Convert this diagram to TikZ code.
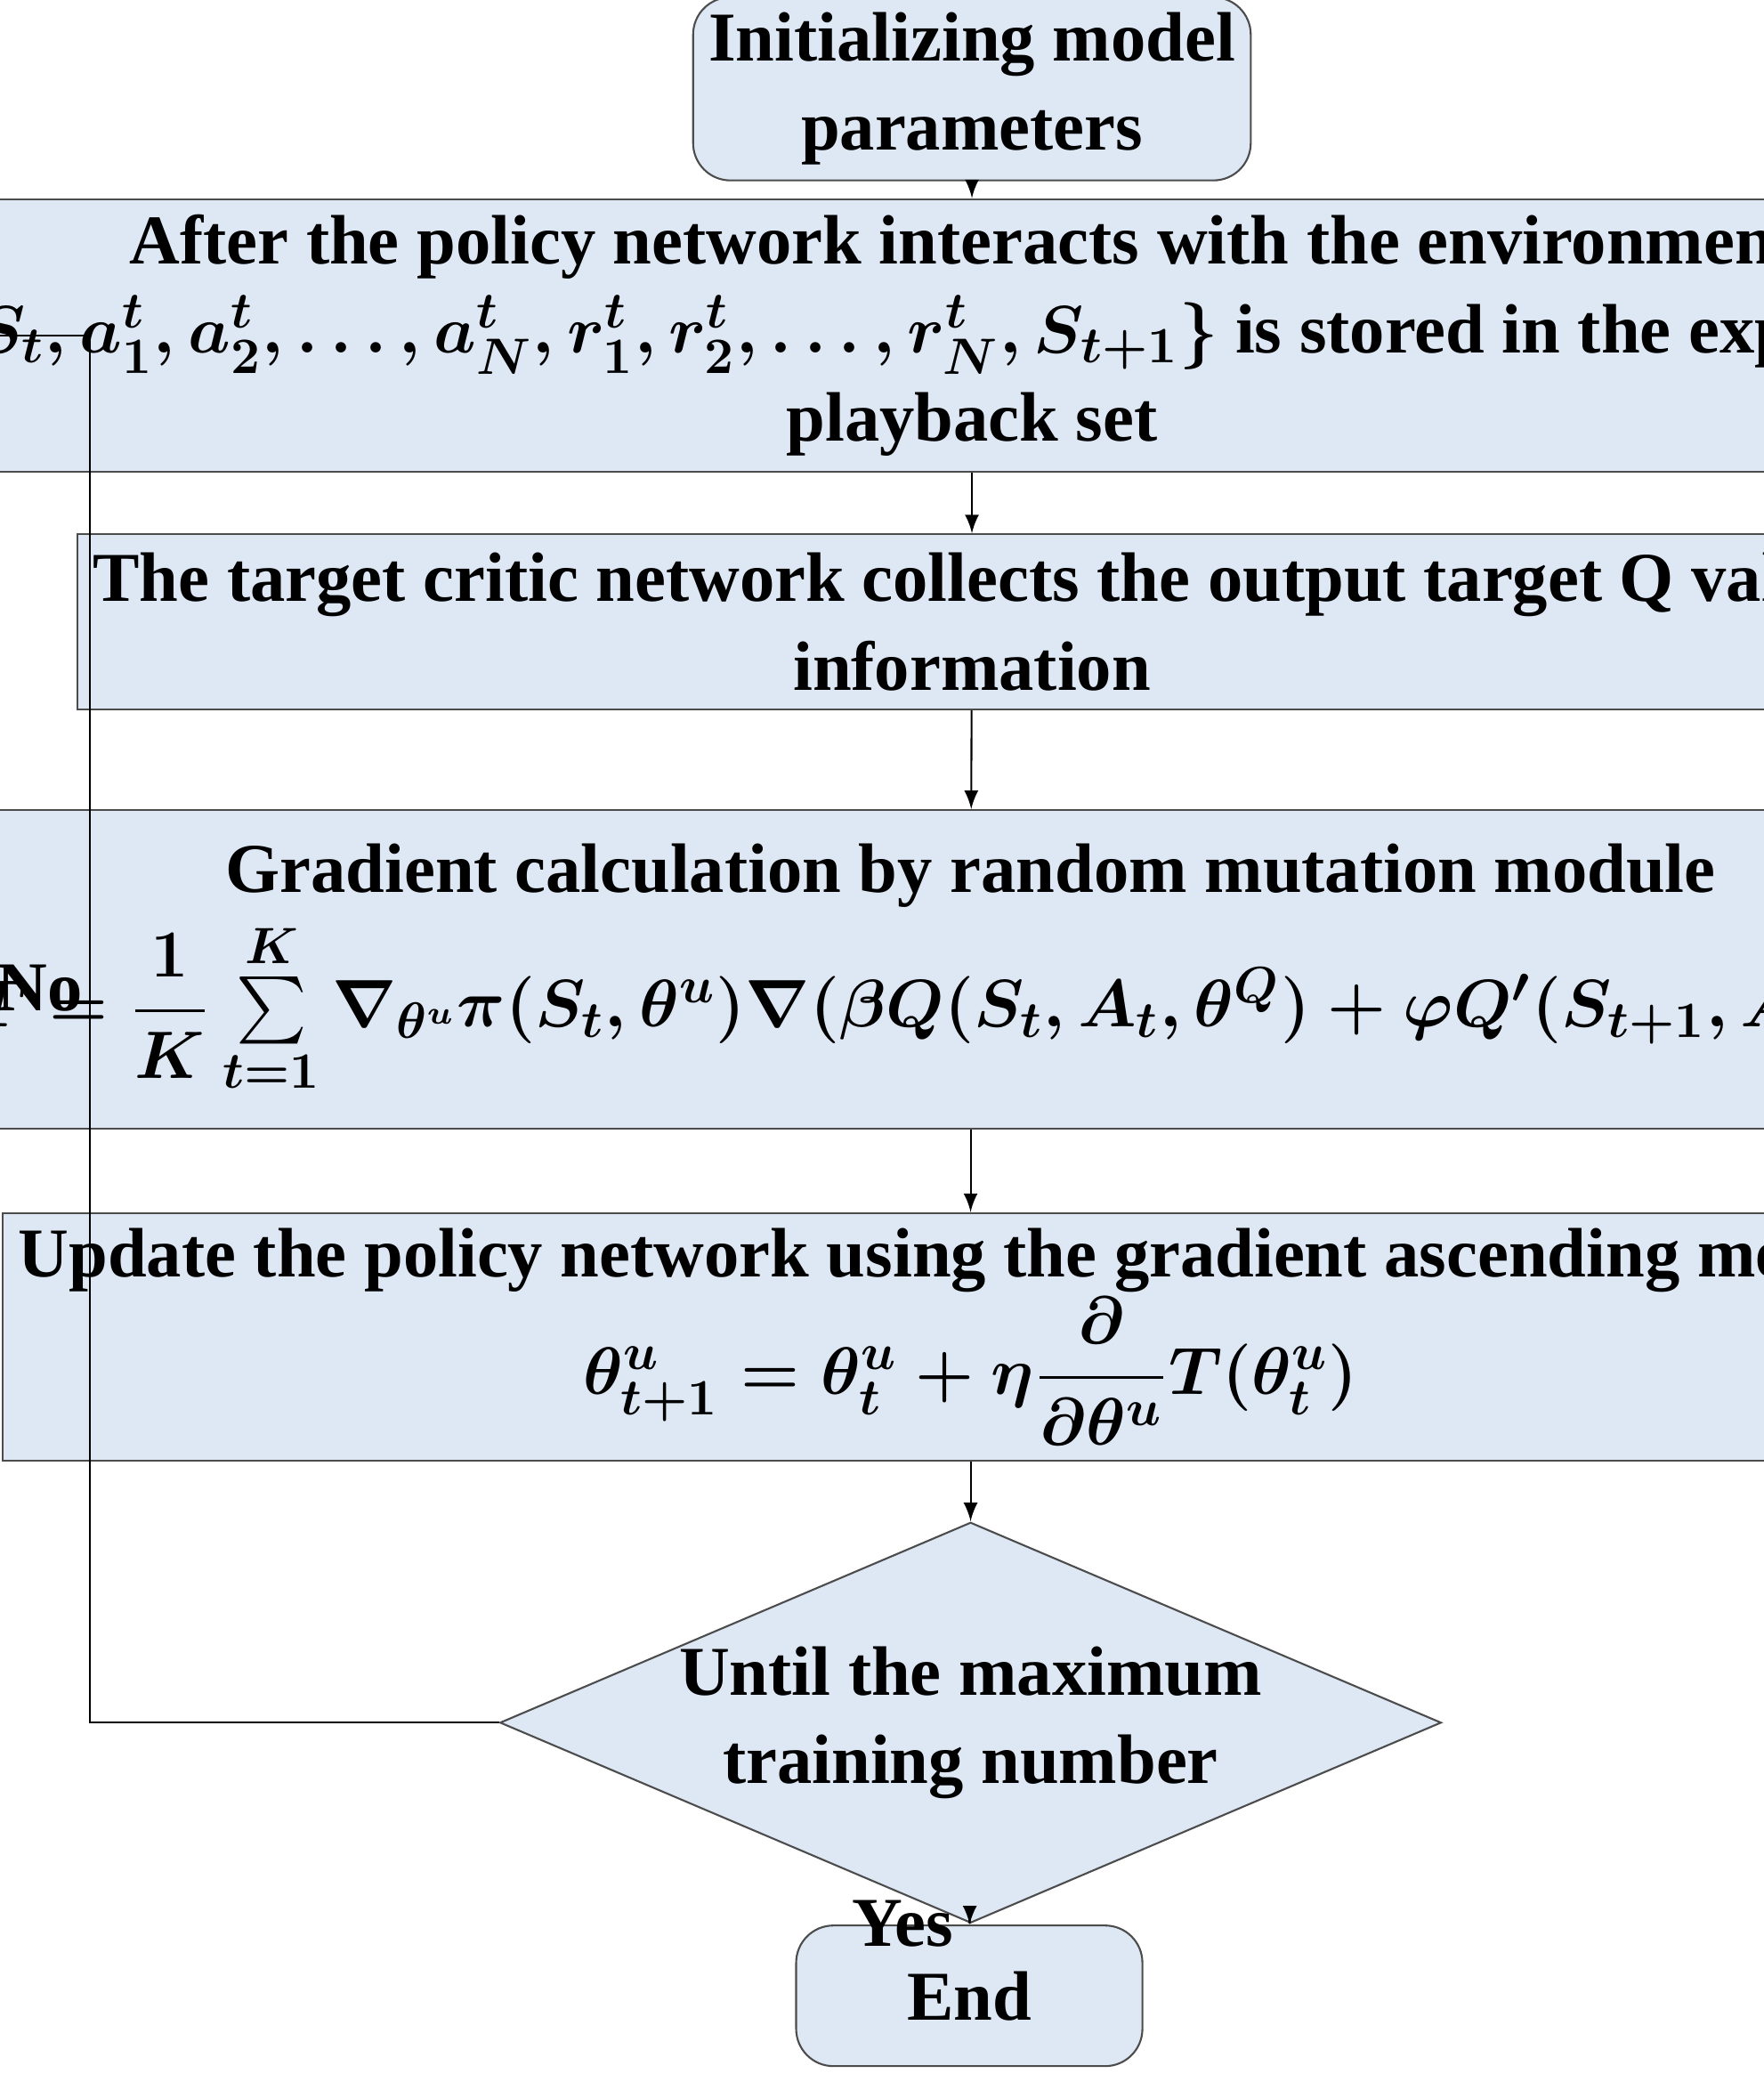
\documentclass[tikz,border=0pt]{standalone}
\usepackage{amsmath}
\usepackage{fontspec}
\setmainfont{Liberation Serif}
\usetikzlibrary{arrows,shapes.geometric}
\definecolor{boxblue}{RGB}{222,232,245}
\tikzset{
  stage/.style={draw=black!70,fill=boxblue,minimum width=11.52cm,align=center,font=\fontsize{15}{19}\selectfont\bfseries\boldmath},
  term/.style={draw=black!70,fill=boxblue,rounded corners=8pt,align=center,font=\fontsize{15}{19}\selectfont\bfseries},
  flow/.style={-latex,black}
}
\begin{document}
\begin{tikzpicture}[x=0.01cm,y=-0.01cm]
        \useasboundingbox (0,0) rectangle (1330,1570);
        \node[term,minimum width=3.66cm,minimum height=1.14cm](init)at(733,67){Initializing model\\parameters};
        \node[stage,minimum height=1.44cm](store)at(733,253){After the policy network interacts with the environment,\\$\{S_t,a_1^t,a_2^t,\ldots,a_N^t,r_1^t,r_2^t,\ldots,r_N^t,S_{t+1}\}$ is stored in the experience\\playback set};
        \node[stage,minimum height=1.32cm](critic)at(733,469){The target critic network collects the output target Q value\\information};
        \node[stage,minimum height=2.40cm](grad)at(732,731){Gradient calculation by random mutation module\\[2pt]
          $\nabla_{\theta^u}T=\dfrac{1}{K}\sum\limits_{t=1}^{K}\nabla_{\theta^u}\pi(S_t,\theta^u)\nabla(\beta Q(S_t,A_t,\theta^Q)+\varphi Q'(S_{t+1},A_{t+1},\theta^{Q'}))$};
        \node[stage,minimum height=1.63cm](update)at(732,1008){Update the policy network using the gradient ascending method\\
          $\theta_{t+1}^u=\theta_t^u+\eta\dfrac{\partial}{\partial\theta^u}T(\theta_t^u)$};
        \node[diamond,draw=black!70,fill=boxblue,aspect=2.35,minimum width=4.64cm,minimum height=1.98cm,inner sep=0pt,align=center,font=\fontsize{15}{19}\selectfont\bfseries](check)at(732,1299){Until the maximum\\training number};
        \node[term,minimum width=2.61cm,minimum height=1.06cm](stop)at(731,1505){End};
        \coordinate (bend) at (68,1299);
        \draw[flow](init)--(store);
        \draw[flow](store)--(critic);
        \draw[flow](critic)--(grad);
        \draw[flow](grad)--(update);
        \draw[flow](update)--(check);
        \draw[flow](check)--node[left,font=\fontsize{15}{19}\selectfont\bfseries]{Yes}(stop);
        \draw[flow](check.west)--(bend)--(bend|-store)--(store.west);
        \node[font=\fontsize{15}{19}\selectfont\bfseries](no)at(30,745){No};
\end{tikzpicture}
\end{document}
